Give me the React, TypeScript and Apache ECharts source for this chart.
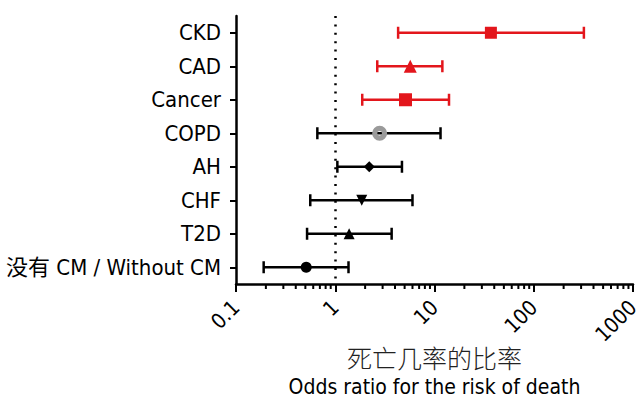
import React, { useEffect, useRef } from 'react';
import * as echarts from 'echarts';

const categories = ['CKD', 'CAD', 'Cancer', 'COPD', 'AH', 'CHF', 'T2D', '没有 CM / Without CM'];
const oddsRatio = [37, 5.7, 5.1, 2.8, 2.2, 1.85, 1.38, 0.51];
const lowerCI = [4.3, 2.65, 1.87, 0.66, 1.05, 0.56, 0.52, 0.19];
const upperCI = [320, 12, 14, 11.5, 4.7, 6.0, 3.7, 1.36];
const significant = [true, true, true, false, false, false, false, false];
const RING = 'path://M0,-7A7,7 0 1,1 0,7A7,7 0 1,1 0,-7Z M0,-2.2A2.2,2.2 0 1,0 0,2.2A2.2,2.2 0 1,0 0,-2.2Z';
const markerSymbols = ['rect', 'triangle', 'rect', RING, 'diamond', 'triangle', 'triangle', 'circle'];
const markerRotate = [0, 0, 0, 0, 0, 180, 0, 0];
const markerSizes = [12, 13, 13, 15, 11, 11, 11, 11];
const xTickLabels = ['0.1', '1', '10', '100', '1000'];
const minorTickValues: number[] = [
  0.2, 0.3, 0.4, 0.5, 0.6, 0.7, 0.8, 0.9,
  2, 3, 4, 5, 6, 7, 8, 9,
  20, 30, 40, 50, 60, 70, 80, 90,
  200, 300, 400, 500, 600, 700, 800, 900,
];

const RED = '#e3161c';
const GRAY = '#9a9a9a';
const FONT = "'DejaVu Sans Condensed', 'Liberation Sans Narrow', 'Noto Sans CJK SC', sans-serif";

export default function App() {
  const ref = useRef<HTMLDivElement>(null);
  useEffect(() => {
    if (!ref.current) return;
    const chart = echarts.init(ref.current, undefined, { renderer: 'svg' });
    const gridLeft = 236;
    const gridTop = 16;
    const gridRight = 11;
    const gridBottom = 117;
    const cx = gridLeft + (644 - gridLeft - gridRight) / 2;
    const option: any = {
      animation: false,
      grid: {
        left: gridLeft, top: gridTop, right: gridRight, bottom: gridBottom,
        containLabel: false, outerBoundsMode: 'none',
      },
      xAxis: {
        type: 'log',
        logBase: 10,
        min: 0.1,
        max: 1000,
        axisLine: { show: true, lineStyle: { color: '#000', width: 2.5 } },
        axisTick: { show: true, length: 8, lineStyle: { color: '#000', width: 2 } },
        splitLine: { show: false },
        axisLabel: {
          rotate: 45,
          margin: 20,
          color: '#000',
          fontSize: 21,
          fontFamily: FONT,
          formatter: (v: number) => {
            const i = Math.round(Math.log10(v)) + 1;
            return xTickLabels[i] ?? String(v);
          },
        },
      },
      yAxis: {
        type: 'category',
        inverse: true,
        data: categories,
        boundaryGap: true,
        axisLine: { show: true, lineStyle: { color: '#000', width: 2.5 } },
        axisTick: { show: true, alignWithLabel: true, length: 6, lineStyle: { color: '#000', width: 2 } },
        axisLabel: { color: '#000', fontSize: 22, fontFamily: FONT, margin: 15 },
        splitLine: { show: false },
      },
      graphic: [
        {
          type: 'text',
          x: cx,
          y: 357,
          style: {
            text: '死亡几率的比率',
            align: 'center',
            verticalAlign: 'middle',
            fontSize: 25,
            fontWeight: 300,
            fontFamily: "'Noto Sans CJK SC', sans-serif",
            fill: '#222',
          },
        },
        {
          type: 'text',
          x: cx,
          y: 387,
          style: {
            text: 'Odds ratio for the risk of death',
            align: 'center',
            verticalAlign: 'middle',
            fontSize: 21,
            fontFamily: FONT,
            fill: '#000',
          },
        },
      ],
      series: [
        {
          type: 'custom',
          name: 'minorTicks',
          silent: true,
          clip: false,
          data: minorTickValues.map((v) => [v, 0]),
          encode: { x: 0, y: 1 },
          renderItem: (params: any, api: any) => {
            const p = api.coord([api.value(0), 0]);
            const cs = params.coordSys;
            const bottom = cs.y + cs.height;
            return {
              type: 'line',
              shape: { x1: p[0], y1: bottom, x2: p[0], y2: bottom + 5 },
              style: { stroke: '#000', lineWidth: 2 },
            };
          },
          z: 1,
        },
        {
          type: 'custom',
          name: 'ci',
          silent: true,
          data: categories.map((_, i) => [lowerCI[i], upperCI[i], i]),
          encode: { x: [0, 1], y: 2 },
          renderItem: (params: any, api: any) => {
            const idx = params.dataIndex;
            const y = api.value(2);
            const p1 = api.coord([api.value(0), y]);
            const p2 = api.coord([api.value(1), y]);
            const color = significant[idx] ? RED : '#000';
            const h = 6;
            const st = { stroke: color, lineWidth: 2.5 };
            return {
              type: 'group',
              children: [
                { type: 'line', shape: { x1: p1[0], y1: p1[1], x2: p2[0], y2: p2[1] }, style: st },
                { type: 'line', shape: { x1: p1[0], y1: p1[1] - h, x2: p1[0], y2: p1[1] + h }, style: st },
                { type: 'line', shape: { x1: p2[0], y1: p2[1] - h, x2: p2[0], y2: p2[1] + h }, style: st },
              ],
            };
          },
          z: 2,
        },
        {
          type: 'scatter',
          name: 'or',
          silent: true,
          data: categories.map((_, i) => ({
            value: [oddsRatio[i], i],
            symbol: markerSymbols[i],
            symbolSize: markerSizes[i],
            symbolRotate: markerRotate[i],
            itemStyle: {
              color: markerSymbols[i] === RING ? GRAY : (significant[i] ? RED : '#000'),
              opacity: 1,
            },
          })),
          z: 3,
          markLine: {
            silent: true,
            symbol: 'none',
            label: { show: false },
            lineStyle: { color: '#000', width: 2.5, type: [2, 6.4] },
            data: [{ xAxis: 1 }],
          },
        },
      ],
    };
    chart.setOption(option);
    return () => chart.dispose();
  }, []);
  return <div ref={ref} style={{ width: 644, height: 401, position: 'absolute', left: 0, top: 0 }} />;
}
